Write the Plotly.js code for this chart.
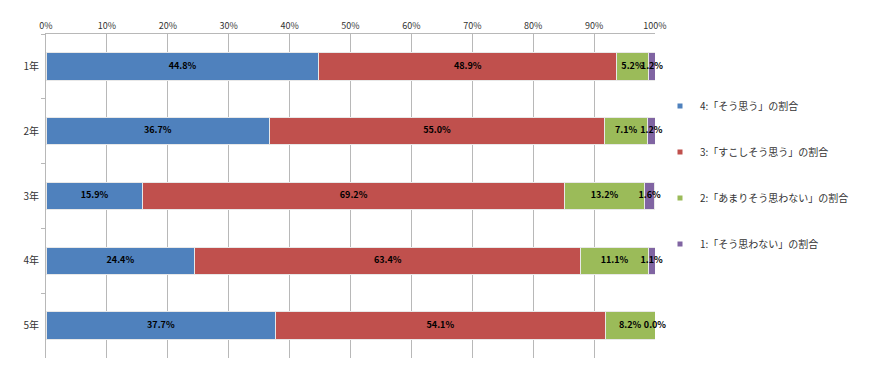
<!DOCTYPE html>
<html><head><meta charset="utf-8">
<script src="https://cdn.plot.ly/plotly-3.0.1.min.js"></script>
<style>html,body{margin:0;padding:0;background:#fff}</style>
</head><body>
<div id="chart" style="width:870px;height:380px"></div>
<script>
const categories = ["1年","2年","3年","4年","5年"];
const seriesNames = ["4:「そう思う」の割合","3:「すこしそう思う」の割合","2:「あまりそう思わない」の割合","1:「そう思わない」の割合"];
const s4 = [44.8, 36.7, 15.9, 24.4, 37.7];
const s3 = [48.9, 55.0, 69.2, 63.4, 54.1];
const s2 = [5.2, 7.1, 13.2, 11.1, 8.2];
const s1 = [1.2, 1.2, 1.6, 1.1, 0.0];
const colors = ["#4F81BD","#C0504D","#9BBB59","#8064A2"];
const xTicks = [0,10,20,30,40,50,60,70,80,90,100];

const series = [s4, s3, s2, s1];
const font = "'Noto Sans CJK JP', 'Noto Sans', sans-serif";
const traces = [];
series.forEach((vals, i) => {
  traces.push({
    type: 'bar', orientation: 'h', x: vals, y: categories,
    name: seriesNames[i], showlegend: false,
    marker: {color: colors[i], line: {color: '#e8e8e8', width: 1}},
    hoverinfo: 'x+name'
  });
});
// data labels at segment centres
const cum = categories.map(() => 0);
series.forEach((vals, i) => {
  const mids = vals.map((v, k) => { const m = cum[k] + v / 2; cum[k] += v; return Math.min(m, 99.99); });
  traces.push({
    type: 'scatter', mode: 'text', x: mids, y: categories,
    text: vals.map(v => v.toFixed(1) + '%'), textposition: 'middle center',
    textfont: {family: font, size: 9, color: '#000', weight: 'bold'},
    showlegend: false, hoverinfo: 'skip', cliponaxis: false
  });
});
// legend entries with small square markers
series.forEach((vals, i) => {
  traces.push({
    type: 'scatter', mode: 'markers', x: [null], y: [null],
    name: seriesNames[i], legendgroup: 'g' + i,
    marker: {symbol: 'square', size: 5, color: colors[i]}
  });
});

const layout = {
  width: 870, height: 380,
  margin: {l: 46, r: 215, t: 34, b: 22},
  paper_bgcolor: '#fff', plot_bgcolor: '#fff',
  barmode: 'stack', bargap: 0.58,
  font: {family: font, size: 9, color: '#333'},
  xaxis: {
    side: 'top', range: [0, 100], tickvals: xTicks, ticktext: xTicks.map(v => v + '%'),
    showgrid: true, gridcolor: '#b8b8b8', gridwidth: 1, zeroline: false,
    showline: true, linecolor: '#b8b8b8', ticks: '', tickfont: {size: 9, color: '#333'},
    fixedrange: true
  },
  yaxis: {
    type: 'category', autorange: 'reversed', showgrid: false, zeroline: false,
    showline: true, linecolor: '#b8b8b8', ticks: 'outside', tickson: 'boundaries',
    ticklen: 4, tickcolor: '#b8b8b8', tickfont: {size: 10, color: '#333'}, ticklabelstandoff: 4,
    fixedrange: true
  },
  showlegend: true,
  legend: {
    xref: 'container', yref: 'container',
    x: 660 / 870, xanchor: 'left', y: 1 - 175 / 380, yanchor: 'middle',
    font: {family: font, size: 10, color: '#333'},
    tracegroupgap: 27, itemwidth: 30, bgcolor: 'rgba(0,0,0,0)'
  }
};
Plotly.newPlot('chart', traces, layout, {displayModeBar: false, staticPlot: true});
</script>
</body></html>
